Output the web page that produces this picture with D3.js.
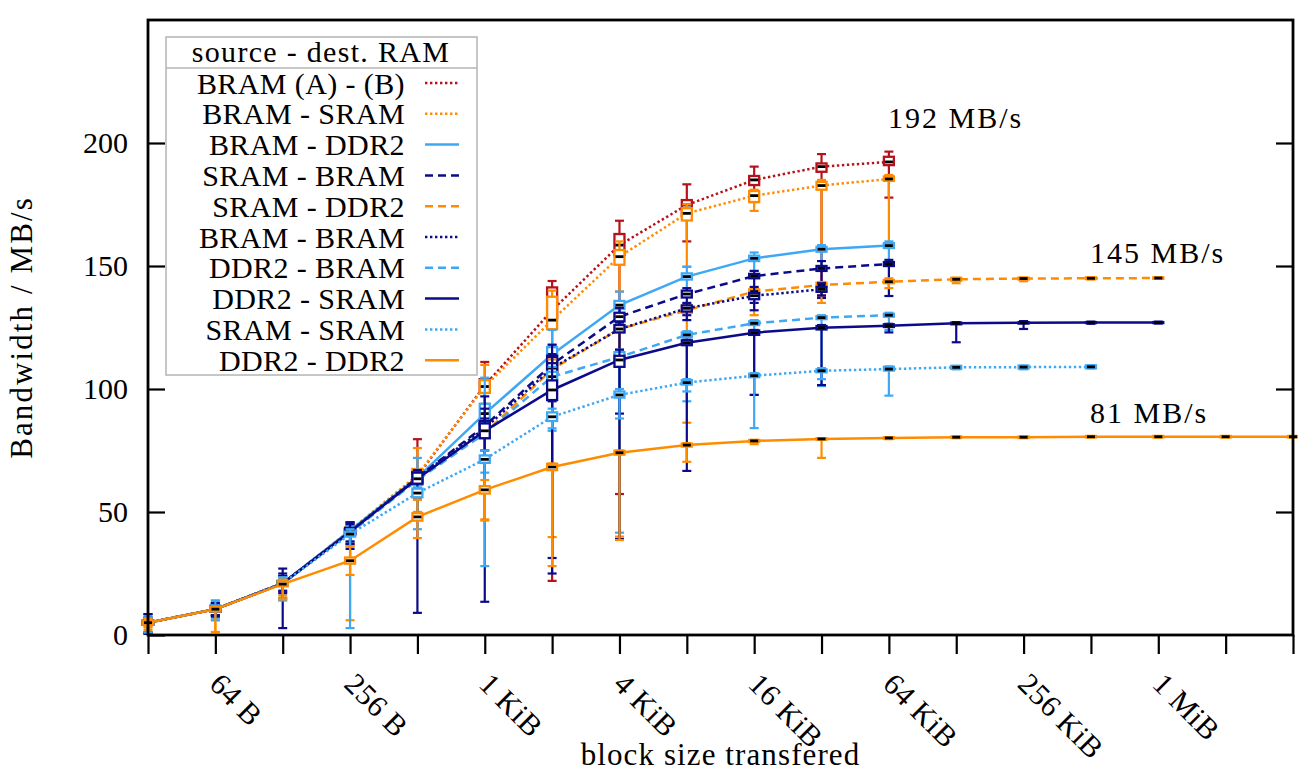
<!DOCTYPE html>
<html>
<head>
<meta charset="utf-8">
<script src="https://cdn.jsdelivr.net/npm/d3@7"></script>
<style>
  html, body { margin: 0; padding: 0; background: #fff; }
  svg text { font-family: "Liberation Serif", "Times New Roman", serif; fill: #000; }
</style>
</head>
<body>
<svg id="chart" width="1298" height="778"></svg>
<script>
// Block sizes (bytes), one measurement point per power of two
const blockSizes = [32, 64, 128, 256, 512, 1024, 2048, 4096, 8192, 16384, 32768,
  65536, 131072, 262144, 524288, 1048576, 2097152, 4194304];
const tickSizes = [64, 256, 1024, 4096, 16384, 65536, 262144, 1048576];
const tickLabels = ["64 B", "256 B", "1 KiB", "4 KiB", "16 KiB", "64 KiB", "256 KiB", "1 MiB"];
const yTicks = [0, 50, 100, 150, 200];

// Per series: median, lower/upper quartile, min, max (MB/s), from 32 B upward
const bramAB_med = [5.0, 10.5, 21.0, 42.0, 64.5, 101.5, 132.0, 158.5, 174.8, 185.0, 190.4, 192.3];
const bramAB_q1  = [4.2, 9.6, 20.2, 41.0, 62.5, 99.0, 128.7, 154.5, 170.7, 182.9, 188.3, 191.0];
const bramAB_q3  = [5.8, 11.4, 21.8, 43.0, 66.5, 104.0, 141.3, 163.0, 176.8, 186.6, 191.7, 194.4];
const bramAB_lo  = [1.0, 8.0, 17.6, 37.0, 58.0, 93.0, 22.0, 57.3, 160.0, 176.0, 138.0, 177.8];
const bramAB_hi  = [7.0, 12.5, 24.0, 44.5, 79.6, 111.0, 143.9, 168.4, 183.2, 190.4, 195.5, 196.5];

const bramSram_med = [5.0, 10.5, 21.0, 42.5, 65.0, 101.0, 128.0, 153.8, 171.4, 178.6, 182.7, 185.4];
const bramSram_q1  = [4.2, 9.6, 20.0, 41.2, 63.0, 98.4, 124.3, 150.5, 168.5, 176.0, 181.0, 184.6];
const bramSram_q3  = [5.8, 11.4, 22.0, 43.8, 67.5, 103.6, 137.5, 156.5, 173.5, 180.5, 184.2, 186.4];
const bramSram_lo  = [3.0, 1.2, 16.0, 36.0, 55.0, 94.0, 118.0, 139.6, 149.7, 172.4, 157.9, 158.5];
const bramSram_hi  = [6.5, 12.0, 23.0, 44.5, 76.0, 109.8, 140.0, 160.0, 175.0, 181.0, 185.0, 187.0];

const bramDdr2_med = [5.0, 10.5, 21.0, 42.5, 64.0, 90.0, 114.0, 134.1, 145.7, 153.1, 156.8, 158.3];
const bramDdr2_q1  = [4.2, 9.5, 20.0, 41.5, 62.0, 86.0, 110.0, 132.5, 144.5, 152.0, 155.8, 157.3];
const bramDdr2_q3  = [5.8, 12.0, 22.0, 43.5, 66.0, 94.0, 117.0, 135.8, 147.0, 154.2, 157.8, 159.3];
const bramDdr2_lo  = [1.0, 8.0, 15.0, 38.0, 50.0, 60.0, 90.0, 112.0, 138.0, 148.0, 150.0, 150.0];
const bramDdr2_hi  = [7.5, 14.0, 24.0, 45.5, 72.0, 104.6, 124.0, 139.6, 149.7, 155.5, 158.5, 160.0];

const sramBram_med = [5.0, 10.5, 21.0, 42.0, 64.0, 85.0, 110.0, 129.4, 138.6, 145.9, 149.0, 150.8];
const sramBram_q1  = [4.2, 9.6, 20.2, 41.0, 62.0, 83.0, 107.0, 127.5, 137.2, 145.0, 148.0, 150.0];
const sramBram_q3  = [5.8, 11.4, 21.8, 43.0, 66.0, 87.0, 113.5, 131.0, 140.0, 146.8, 150.0, 151.6];
const sramBram_lo  = [0.5, 8.0, 18.0, 38.0, 56.0, 75.0, 95.0, 115.0, 130.0, 135.0, 137.0, 137.8];
const sramBram_hi  = [8.5, 13.0, 25.0, 45.8, 67.0, 97.0, 118.0, 133.0, 141.0, 148.0, 152.0, 152.5];

const sramDdr2_med = [5.0, 10.5, 21.0, 42.0, 63.5, 82.0, 108.0, 124.4, 132.0, 139.6, 142.3, 143.6, 144.6, 144.9, 145.0, 145.1];
const sramDdr2_q1  = [4.2, 9.6, 20.2, 41.0, 62.0, 80.5, 106.5, 123.0, 131.0, 138.8, 141.5, 143.0, 144.0, 144.5, 144.7, 144.8];
const sramDdr2_q3  = [5.8, 11.4, 21.8, 43.0, 65.0, 83.5, 110.0, 126.0, 133.5, 140.5, 143.2, 144.3, 145.2, 145.3, 145.4, 145.4];
const sramDdr2_lo  = [2.0, 6.0, 14.5, 6.0, 50.0, 47.0, 39.8, 40.0, 86.3, 130.0, 135.0, 141.0, 143.0, 143.8, 144.5, 144.8];
const sramDdr2_hi  = [6.5, 12.0, 22.5, 44.0, 65.0, 86.0, 112.0, 126.0, 134.5, 141.0, 143.5, 145.0, 145.2, 145.3, 145.4, 145.4];

const bramBram_med = [5.0, 10.5, 21.0, 42.0, 64.0, 84.0, 108.5, 124.4, 132.8, 137.9, 140.5];
const bramBram_q1  = [4.2, 9.6, 20.2, 41.0, 62.0, 82.0, 106.5, 123.0, 131.5, 136.5, 139.5];
const bramBram_q3  = [5.8, 11.4, 21.8, 43.0, 66.0, 86.0, 110.5, 126.0, 134.0, 139.0, 141.5];
const bramBram_lo  = [1.0, 8.0, 17.0, 37.0, 56.0, 70.0, 31.3, 90.0, 128.0, 132.0, 138.0];
const bramBram_hi  = [7.0, 12.5, 24.0, 45.0, 67.0, 88.0, 113.0, 127.0, 135.0, 141.5, 143.0];

const ddr2Bram_med = [5.0, 10.5, 21.0, 41.5, 63.0, 82.0, 105.0, 113.0, 122.0, 126.7, 129.0, 130.0];
const ddr2Bram_q1  = [4.2, 9.6, 20.2, 40.5, 61.0, 80.0, 103.0, 111.5, 121.0, 126.0, 128.4, 129.4];
const ddr2Bram_q3  = [5.8, 11.4, 21.8, 42.5, 65.0, 84.0, 107.0, 115.0, 123.0, 127.5, 129.6, 130.6];
const ddr2Bram_lo  = [1.0, 7.0, 15.0, 30.0, 48.0, 66.0, 83.0, 41.6, 95.0, 97.6, 101.2, 124.0];
const ddr2Bram_hi  = [7.0, 12.5, 23.0, 44.0, 66.0, 86.0, 109.0, 116.0, 123.5, 128.0, 130.0, 131.0];

const ddr2Sram_med = [5.0, 10.5, 21.0, 42.0, 63.5, 83.0, 99.6, 111.8, 118.8, 122.9, 124.9, 125.7, 126.7, 126.9, 127.0, 127.0];
const ddr2Sram_q1  = [4.2, 9.6, 20.2, 41.0, 61.5, 80.0, 95.5, 109.0, 117.8, 122.0, 124.2, 125.2, 126.3, 126.6, 126.8, 126.8];
const ddr2Sram_q3  = [5.8, 11.4, 21.8, 43.5, 66.0, 86.0, 103.5, 113.5, 119.8, 123.8, 125.6, 126.3, 127.0, 127.2, 127.2, 127.2];
const ddr2Sram_lo  = [0.5, 7.5, 2.8, 35.0, 9.0, 13.5, 25.0, 39.0, 66.7, 97.6, 101.6, 123.0, 119.0, 124.4, 126.5, 126.6];
const ddr2Sram_hi  = [8.5, 13.0, 27.0, 45.8, 66.0, 92.0, 114.0, 116.0, 120.0, 124.0, 126.0, 126.5, 127.2, 127.6, 127.4, 127.4];

const sramSram_med = [5.0, 10.5, 21.0, 41.0, 57.7, 71.4, 88.7, 97.6, 102.6, 105.4, 107.4, 108.1, 108.8, 108.9, 109.0];
const sramSram_q1  = [4.2, 9.6, 20.0, 40.0, 56.0, 70.0, 87.0, 96.5, 101.8, 104.8, 106.8, 107.5, 108.2, 108.3, 108.4];
const sramSram_q3  = [5.8, 11.6, 22.0, 42.0, 59.5, 73.0, 90.5, 99.0, 103.6, 106.2, 108.0, 109.0, 109.4, 109.5, 109.6];
const sramSram_lo  = [1.0, 6.0, 14.0, 2.8, 43.0, 28.0, 84.0, 88.0, 99.0, 84.1, 104.0, 97.3, 108.0, 108.0, 108.4];
const sramSram_hi  = [7.0, 14.0, 23.5, 43.0, 60.0, 75.0, 92.0, 100.0, 104.0, 106.5, 108.5, 109.2, 109.4, 109.5, 109.6];

const ddr2Ddr2_med = [5.0, 10.5, 20.7, 30.2, 48.0, 59.0, 68.3, 74.1, 77.2, 78.9, 79.7, 80.1, 80.4, 80.4, 80.6, 80.6, 80.6, 80.6];
const ddr2Ddr2_q1  = [4.2, 9.6, 19.8, 29.0, 46.5, 57.5, 67.0, 73.3, 76.6, 78.5, 79.4, 79.8, 80.1, 80.1, 80.3, 80.3, 80.3, 80.3];
const ddr2Ddr2_q3  = [5.8, 11.4, 21.8, 31.5, 49.5, 60.5, 69.6, 74.9, 77.8, 79.3, 80.0, 80.4, 80.7, 80.7, 80.9, 80.9, 80.9, 80.9];
const ddr2Ddr2_lo  = [3.5, 1.2, 14.5, 24.4, 39.4, 46.5, 28.0, 38.6, 70.4, 77.6, 72.0, 79.6, 80.0, 80.0, 80.3, 80.3, 80.3, 80.3];
const ddr2Ddr2_hi  = [6.5, 11.5, 22.5, 36.0, 55.0, 63.0, 69.7, 75.0, 78.0, 79.3, 80.0, 80.4, 80.7, 80.7, 80.9, 80.9, 80.9, 80.9];

const seriesNames = ["BRAM (A) - (B)", "BRAM - SRAM", "BRAM - DDR2", "SRAM - BRAM", "SRAM - DDR2",
  "BRAM - BRAM", "DDR2 - BRAM", "DDR2 - SRAM", "SRAM - SRAM", "DDR2 - DDR2"];
const plateauLabels = ["192 MB/s", "145 MB/s", "81 MB/s"];

// Visual styles, one per series in legend order
const RED = "#b5121b", ORANGE = "#ff8c00", LIGHT = "#3ea8f4", NAVY = "#0b0b8a";
const DOT = "2.4,2.6", DASH = "8,5";
const styles = [
  { color: RED, dash: DOT }, { color: ORANGE, dash: DOT }, { color: LIGHT, dash: null },
  { color: NAVY, dash: DASH }, { color: ORANGE, dash: DASH }, { color: NAVY, dash: DOT },
  { color: LIGHT, dash: DASH }, { color: NAVY, dash: null }, { color: LIGHT, dash: DOT },
  { color: ORANGE, dash: null }
];

const seriesData = [
  [bramAB_med, bramAB_q1, bramAB_q3, bramAB_lo, bramAB_hi],
  [bramSram_med, bramSram_q1, bramSram_q3, bramSram_lo, bramSram_hi],
  [bramDdr2_med, bramDdr2_q1, bramDdr2_q3, bramDdr2_lo, bramDdr2_hi],
  [sramBram_med, sramBram_q1, sramBram_q3, sramBram_lo, sramBram_hi],
  [sramDdr2_med, sramDdr2_q1, sramDdr2_q3, sramDdr2_lo, sramDdr2_hi],
  [bramBram_med, bramBram_q1, bramBram_q3, bramBram_lo, bramBram_hi],
  [ddr2Bram_med, ddr2Bram_q1, ddr2Bram_q3, ddr2Bram_lo, ddr2Bram_hi],
  [ddr2Sram_med, ddr2Sram_q1, ddr2Sram_q3, ddr2Sram_lo, ddr2Sram_hi],
  [sramSram_med, sramSram_q1, sramSram_q3, sramSram_lo, sramSram_hi],
  [ddr2Ddr2_med, ddr2Ddr2_q1, ddr2Ddr2_q3, ddr2Ddr2_lo, ddr2Ddr2_hi]
].map(([med, q1, q3, lo, hi], i) => ({
  name: seriesNames[i],
  style: styles[i],
  points: med.map((m, j) => ({ size: blockSizes[j], med: m, q1: q1[j], q3: q3[j], lo: lo[j], hi: hi[j] }))
}));

const plotLeft = 148, plotRight = 1293, plotTop = 20, plotBottom = 635;
const x = d3.scaleLog().base(2).domain([32, 4194304]).range([plotLeft, plotRight]);
const y = d3.scaleLinear().domain([0, 250]).range([plotBottom, plotTop]);

const svg = d3.select("#chart");
const FONT = 30, BIG = 31;

// Data: each series draws its connecting line, then its min/max whiskers,
// quartile boxes and black median marks
const line = d3.line().x(d => x(d.size)).y(d => y(d.med));
const plot = svg.append("g");
seriesData.forEach(s => {
  const g = plot.append("g");
  g.append("path")
    .attr("d", line(s.points))
    .attr("fill", "none")
    .attr("stroke", s.style.color)
    .attr("stroke-width", 2.5)
    .attr("stroke-dasharray", s.style.dash);
  const pt = g.selectAll("g.pt").data(s.points).join("g").attr("class", "pt");
  pt.append("line")
    .attr("x1", d => x(d.size)).attr("x2", d => x(d.size))
    .attr("y1", d => y(d.lo)).attr("y2", d => y(d.hi))
    .attr("stroke", s.style.color).attr("stroke-width", 2.2);
  ["lo", "hi"].forEach(k => {
    pt.append("line")
      .attr("x1", d => x(d.size) - 4.5).attr("x2", d => x(d.size) + 4.5)
      .attr("y1", d => y(d[k])).attr("y2", d => y(d[k]))
      .attr("stroke", s.style.color).attr("stroke-width", 2.2);
  });
  pt.append("rect")
    .attr("x", d => x(d.size) - 5).attr("width", 10)
    .attr("y", d => y(d.q3)).attr("height", d => Math.max(0.5, y(d.q1) - y(d.q3)))
    .attr("fill", "#fff").attr("stroke", s.style.color).attr("stroke-width", 2.3);
  pt.append("line")
    .attr("x1", d => x(d.size) - 4).attr("x2", d => x(d.size) + 4)
    .attr("y1", d => y(d.med)).attr("y2", d => y(d.med))
    .attr("stroke", "#000").attr("stroke-width", 2.8);
});

// Axes
const axisStyle = g => {
  g.select(".domain").remove();
  g.selectAll(".tick line").attr("stroke", "#000").attr("stroke-width", 2.2);
  g.selectAll("text").attr("font-size", FONT).attr("font-family", null);
};

svg.append("g")
  .attr("transform", `translate(${plotLeft},0)`)
  .call(d3.axisLeft(y).tickValues(yTicks).tickSizeInner(-17).tickSizeOuter(0).tickPadding(20))
  .call(axisStyle);

svg.append("g")
  .attr("transform", `translate(${plotRight},0)`)
  .call(d3.axisRight(y).tickValues(yTicks.slice(1)).tickSizeInner(-17).tickSizeOuter(0).tickFormat(""))
  .call(axisStyle);

const xAxis = svg.append("g")
  .attr("transform", `translate(0,${plotBottom})`)
  .call(d3.axisBottom(x).tickValues(blockSizes).tickSizeInner(19).tickSizeOuter(0)
    .tickFormat(v => { const i = tickSizes.indexOf(v); return i < 0 ? "" : tickLabels[i]; }))
  .call(axisStyle);
xAxis.selectAll(".tick text")
  .attr("y", null).attr("dy", "0.7em")
  .attr("text-anchor", "start")
  .attr("letter-spacing", 0.5)
  .attr("transform", "translate(7,36) rotate(45)");

// Frame
svg.append("rect")
  .attr("x", plotLeft).attr("y", plotTop)
  .attr("width", plotRight - plotLeft).attr("height", plotBottom - plotTop)
  .attr("fill", "none").attr("stroke", "#000").attr("stroke-width", 2.8);

// Axis titles
svg.append("text")
  .attr("transform", `translate(32,${(plotTop + plotBottom) / 2}) rotate(-90)`)
  .attr("text-anchor", "middle").attr("font-size", BIG)
  .attr("letter-spacing", 2.1)
  .text("Bandwidth / MB/s");
svg.append("text")
  .attr("x", (plotLeft + plotRight) / 2).attr("y", 765)
  .attr("text-anchor", "middle").attr("font-size", BIG)
  .attr("letter-spacing", 1.1)
  .text("block size transfered");

// Plateau annotations
const notes = [
  { text: plateauLabels[0], x: 888, y: 128 },
  { text: plateauLabels[1], x: 1090, y: 263 },
  { text: plateauLabels[2], x: 1090, y: 423 }
];
svg.append("g").selectAll("text").data(notes).join("text")
  .attr("x", d => d.x).attr("y", d => d.y)
  .attr("font-size", FONT).attr("letter-spacing", 2)
  .text(d => d.text);

// Legend
const lg = svg.append("g");
lg.append("rect")
  .attr("x", 166).attr("y", 37).attr("width", 311).attr("height", 338)
  .attr("fill", "#fff").attr("stroke", "#b4b4b4").attr("stroke-width", 1.5);
lg.append("line")
  .attr("x1", 166).attr("x2", 477).attr("y1", 68).attr("y2", 68)
  .attr("stroke", "#b4b4b4").attr("stroke-width", 1.5);
lg.append("text")
  .attr("x", 321).attr("y", 62).attr("text-anchor", "middle").attr("font-size", FONT)
  .attr("letter-spacing", 1.3)
  .text("source - dest. RAM");
const rows = lg.selectAll("g.row").data(seriesData).join("g").attr("class", "row")
  .attr("transform", (d, i) => `translate(0,${83 + i * 30.8})`);
rows.append("text")
  .attr("x", 405).attr("y", 10.5).attr("text-anchor", "end").attr("font-size", FONT)
  .attr("letter-spacing", 0.4)
  .text(d => d.name);
rows.append("line")
  .attr("x1", 425).attr("x2", 459).attr("y1", 0).attr("y2", 0)
  .attr("stroke", d => d.style.color).attr("stroke-width", 2.5)
  .attr("stroke-dasharray", d => d.style.dash);
</script>
</body>
</html>
